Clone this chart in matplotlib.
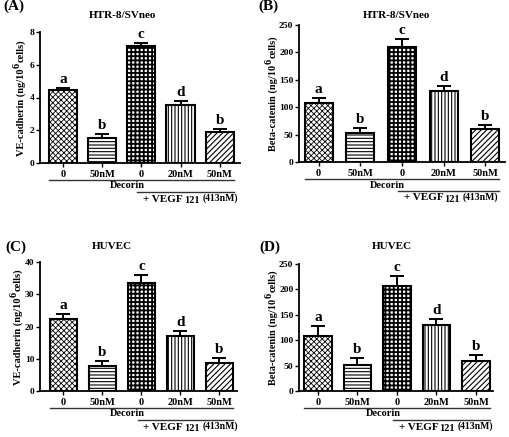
import matplotlib
matplotlib.use("Agg")
import matplotlib.pyplot as plt
import matplotlib.transforms as mtransforms
from matplotlib.text import Annotation
import numpy as np

plt.rcParams['font.family'] = ['Liberation Serif', 'DejaVu Serif']
plt.rcParams['font.weight'] = 'bold'

# ---------------- data ----------------
tick_labels = ['0', '50nM', '0', '20nM', '50nM']
sig_letters = ['a', 'b', 'c', 'd', 'b']

A_vals = [4.45, 1.53, 7.14, 3.55, 1.88]
A_errs = [0.14, 0.25, 0.21, 0.25, 0.20]
B_vals = [108, 53, 209, 130, 60]
B_errs = [8, 9, 15, 8, 7.5]
C_vals = [22.3, 7.7, 33.6, 17.0, 8.6]
C_errs = [1.7, 1.6, 2.3, 1.6, 1.5]
D_vals = [108, 52, 206, 130, 60]
D_errs = [19, 12, 21, 12, 10]

panels = [
    dict(label='(A)', title='HTR-8/SVneo', ylab='VE-cadherin',
         vals=A_vals, errs=A_errs, ylim=(0, 8), yticks=[0, 2, 4, 6, 8]),
    dict(label='(B)', title='HTR-8/SVneo', ylab='Beta-catenin',
         vals=B_vals, errs=B_errs, ylim=(0, 250), yticks=[0, 50, 100, 150, 200, 250]),
    dict(label='(C)', title='HUVEC', ylab='VE-cadherin',
         vals=C_vals, errs=C_errs, ylim=(0, 40), yticks=[0, 10, 20, 30, 40]),
    dict(label='(D)', title='HUVEC', ylab='Beta-catenin',
         vals=D_vals, errs=D_errs, ylim=(0, 250), yticks=[0, 50, 100, 150, 200, 250]),
]

# ---------------- layout (pixels) ----------------
W, H = 510, 437
geo = [
    (40, 240, 32, 163, (-0.59, 4.52), 0.72),
    (299, 505, 25, 162, (-0.47, 4.47), 0.67),
    (40, 237, 262, 391, (-0.60, 4.45), 0.70),
    (299, 493, 264, 391, (-0.48, 4.43), 0.70),
]
label_pos = [(3, 6), (258, 6), (5, 247), (259, 247)]
title_x = [123, 397, 112, 392]
title_y = [15, 15, 247, 247]
ylab_dx = [19, 26, 22, 26]

hatches = ['xxxxxx', '-----', '++++', '|||||', '//////']
hatch_lw = [0.6, 0.8, 1.3, 0.8, 0.8]

fig = plt.figure(figsize=(W / 100, H / 100), dpi=100)
ylabel_groups = []

for p, g, lp, tx, ty, ydx in zip(panels, geo, label_pos, title_x, title_y, ylab_dx):
    l, r, t, b, xlim, bw = g
    ax = fig.add_axes([l / W, 1 - b / H, (r - l) / W, (b - t) / H])
    x = np.arange(len(p['vals']))
    for i in range(len(x)):
        with plt.rc_context({'hatch.linewidth': hatch_lw[i]}):
            bars = ax.bar(x[i], p['vals'][i], width=bw, color='white', edgecolor='black',
                          linewidth=1.5, hatch=hatches[i], zorder=2)
        for bb in bars:
            if hasattr(bb, 'set_hatch_linewidth'):
                bb.set_hatch_linewidth(hatch_lw[i])
    ax.errorbar(x, p['vals'], yerr=[np.zeros(len(x)), p['errs']], fmt='none',
                ecolor='black', elinewidth=1.4, capsize=5, capthick=1.4, zorder=3)
    for i in range(len(x)):
        ax.annotate(sig_letters[i], xy=(x[i], p['vals'][i] + p['errs'][i]),
                    xytext=(0, 1.5), textcoords='offset points', ha='center',
                    va='bottom', fontsize=11, fontweight='bold')
    ax.set_xlim(*xlim)
    ax.set_ylim(*p['ylim'])
    ax.set_yticks(p['yticks'])
    ax.set_xticks(x)
    ax.set_xticklabels(tick_labels, fontsize=7.5, fontweight='bold')
    ax.tick_params(axis='x', length=3, width=1.0, pad=2)
    ax.tick_params(axis='y', length=3, width=1.0, pad=1, labelsize=6.8)
    for s in ['top', 'right']:
        ax.spines[s].set_visible(False)
    for s in ['left', 'bottom']:
        ax.spines[s].set_linewidth(1.3)

    # y label built from pieces (large superscript)
    yc = (t + b) / 2
    t1 = fig.text((l - ydx) / W, 1 - yc / H, p['ylab'] + ' (ng/10', rotation=90,
                  fontsize=7.5, fontweight='bold', ha='center', va='bottom')
    sup = fig.add_artist(Annotation(
        '6', xy=(0.6, 1.0), xycoords=t1, xytext=(0, 0.6), textcoords='offset points',
        ha='right', va='bottom', rotation=90, fontsize=7.5, fontweight='bold'))
    rest = fig.add_artist(Annotation(
        'cells)', xy=(1.0, 1.0), xycoords=(t1, sup), xytext=(0, 0.6),
        textcoords='offset points', ha='right', va='bottom', rotation=90,
        fontsize=7.5, fontweight='bold'))
    ylabel_groups.append((t1, sup, rest, yc))

    # group lines below axis
    base = mtransforms.blended_transform_factory(ax.transData, ax.transAxes)

    def off(px):
        return base + mtransforms.ScaledTranslation(0, -px / 100, fig.dpi_scale_trans)

    ax.plot([-bw / 2, 4 + bw / 2], [0, 0], color='#333333', lw=1.0,
            transform=off(17), clip_on=False)
    ax.text(1.65, 0, 'Decorin', transform=off(23), ha='center', va='center',
            fontsize=7.5, fontweight='bold')
    ax.plot([1.9, 4 + bw / 2], [0, 0], color='#333333', lw=1.0,
            transform=off(29), clip_on=False)
    v1 = ax.text(2.05, 0, '+ VEGF', transform=off(36), ha='left', va='center',
                 fontsize=8, fontweight='bold')
    v2 = ax.annotate('121', xy=(1, 0), xycoords=v1, xytext=(0.6, -1.0),
                     textcoords='offset points', ha='left', va='bottom',
                     fontsize=7.5, fontweight='bold', annotation_clip=False)
    ax.annotate('(413nM)', xy=(1, 0), xycoords=(v2, v1), xytext=(2, 0.3),
                textcoords='offset points', ha='left', va='bottom',
                fontsize=7, fontweight='bold', annotation_clip=False)

    fig.text(lp[0] / W, 1 - lp[1] / H, p['label'], fontsize=11, fontweight='bold',
             ha='left', va='center')
    fig.text(tx / W, 1 - ty / H, p['title'], fontsize=8, fontweight='bold',
             ha='center', va='center')

# center the composite y labels on the axes
fig.canvas.draw()
rdr = fig.canvas.get_renderer()
for t1, sup, rest, yc in ylabel_groups:
    e1 = t1.get_window_extent(rdr)
    e3 = rest.get_window_extent(rdr)
    total = e3.y1 - e1.y0
    x0, _ = t1.get_position()
    new_y0_px = (H - yc) - total / 2
    t1.set_position((x0, new_y0_px / H))

fig.savefig('out.png', dpi=100)
